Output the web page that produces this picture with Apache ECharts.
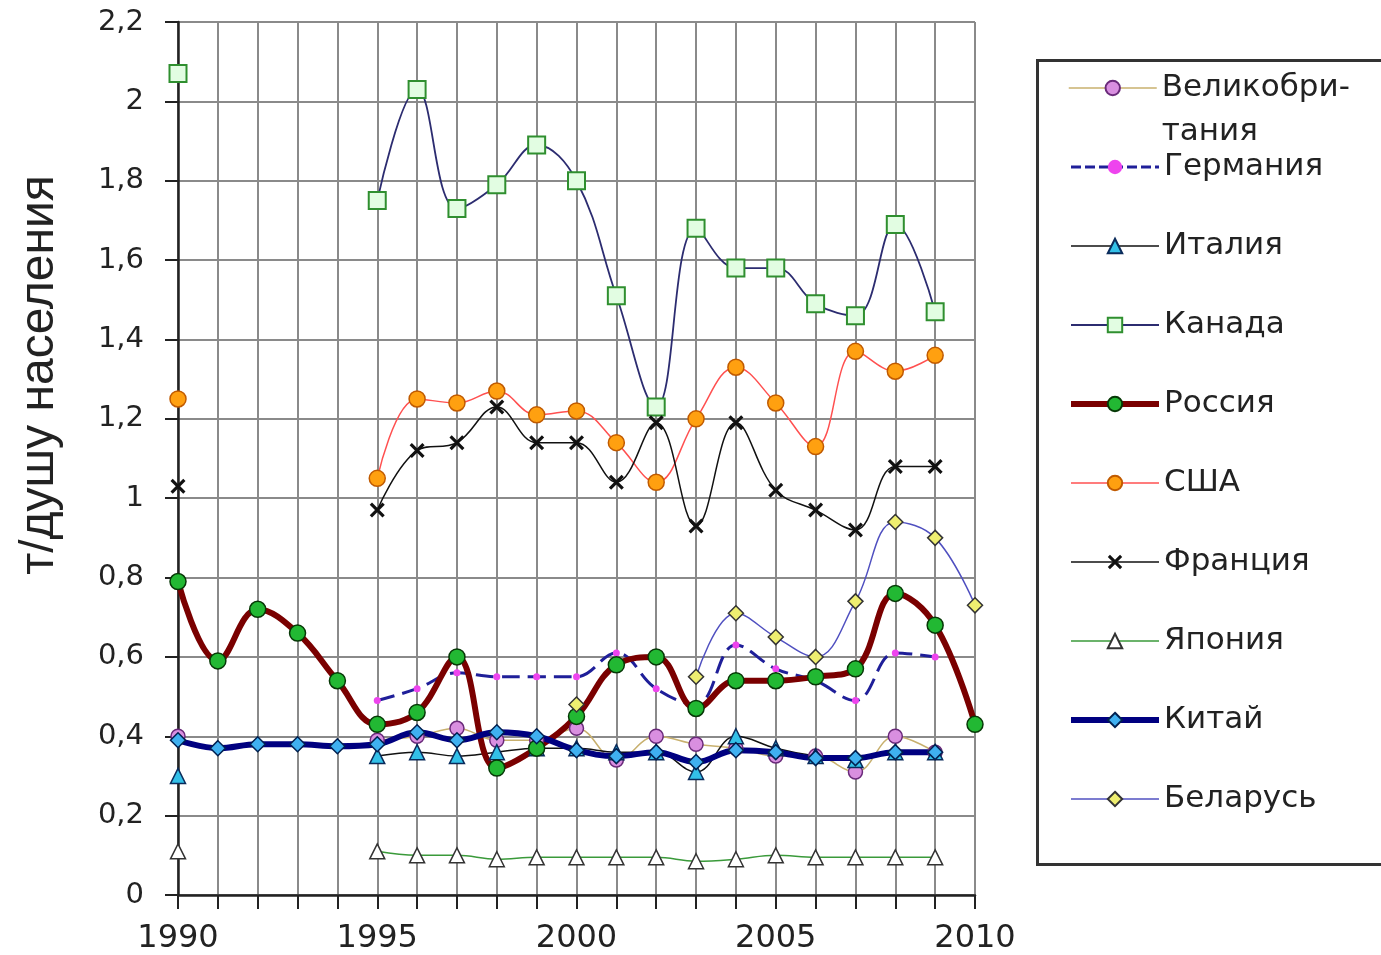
<!DOCTYPE html>
<html>
<head>
<meta charset="utf-8">
<script src="https://cdn.jsdelivr.net/npm/echarts@6/dist/echarts.min.js"></script>
<style>
html,body{margin:0;padding:0;background:#fff;}
#chart{width:1381px;height:955px;}
</style>
</head>
<body>
<div id="chart"></div>
<script>
const years = ['1990','1991','1992','1993','1994','1995','1996','1997','1998','1999','2000','2001','2002','2003','2004','2005','2006','2007','2008','2009','2010'];
const yAxisTitle = 'т/душу населения';
const names = ['Великобритания','Германия','Италия','Канада','Россия','США','Франция','Япония','Китай','Беларусь'];
const ukData      = [0.40, null, null, null, null, 0.39, 0.40, 0.42, 0.39, 0.39, 0.42, 0.34, 0.40, 0.38, 0.37, 0.35, 0.35, 0.31, 0.40, 0.36, null];
const germanyData = [null, null, null, null, null, 0.49, 0.52, 0.56, 0.55, 0.55, 0.55, 0.61, 0.52, 0.48, 0.63, 0.57, 0.54, 0.49, 0.61, 0.60, null];
const italyData   = [0.30, null, null, null, null, 0.35, 0.36, 0.35, 0.36, 0.37, 0.37, 0.36, 0.36, 0.31, 0.40, 0.37, 0.35, 0.34, 0.36, 0.36, null];
const canadaData  = [2.07, null, null, null, null, 1.75, 2.03, 1.73, 1.79, 1.89, 1.80, 1.51, 1.23, 1.68, 1.58, 1.58, 1.49, 1.46, 1.69, 1.47, null];
const russiaData  = [0.79, 0.59, 0.72, 0.66, 0.54, 0.43, 0.46, 0.60, 0.32, 0.37, 0.45, 0.58, 0.60, 0.47, 0.54, 0.54, 0.55, 0.57, 0.76, 0.68, 0.43];
const usaData     = [1.25, null, null, null, null, 1.05, 1.25, 1.24, 1.27, 1.21, 1.22, 1.14, 1.04, 1.20, 1.33, 1.24, 1.13, 1.37, 1.32, 1.36, null];
const franceData  = [1.03, null, null, null, null, 0.97, 1.12, 1.14, 1.23, 1.14, 1.14, 1.04, 1.19, 0.93, 1.19, 1.02, 0.97, 0.92, 1.08, 1.08, null];
const japanData   = [0.11, null, null, null, null, 0.11, 0.10, 0.10, 0.09, 0.095, 0.095, 0.095, 0.095, 0.085, 0.09, 0.10, 0.095, 0.095, 0.095, 0.095, null];
const chinaData   = [0.39, 0.37, 0.38, 0.38, 0.375, 0.38, 0.41, 0.39, 0.41, 0.40, 0.365, 0.35, 0.36, 0.335, 0.365, 0.36, 0.345, 0.345, 0.36, 0.36, null];
const belarusData = [null, null, null, null, null, null, null, null, null, null, 0.48, null, null, 0.55, 0.71, 0.65, 0.60, 0.74, 0.94, 0.90, 0.73];

const crossPath = 'path://M0,1.5L1.5,0L5,3.5L8.5,0L10,1.5L6.5,5L10,8.5L8.5,10L5,6.5L1.5,10L0,8.5L3.5,5Z';
const FONT = 'DejaVu Sans';

const styles = [
  {line: '#c8b06e', w: 1.5, type: 'solid', sym: 'circle', size: 14, fill: '#d98fe0', border: '#6a2a7a', bw: 1.5},
  {line: '#1f1f99', w: 3, type: [18, 8], sym: 'circle', size: 7, fill: '#ee44ee', border: '#ee44ee', bw: 0},
  {line: '#111111', w: 1.5, type: 'solid', sym: 'triangle', size: 15, fill: '#33c0e8', border: '#0a2a5a', bw: 1.5},
  {line: '#2c2c70', w: 1.8, type: 'solid', sym: 'rect', size: 17, fill: '#e2fde2', border: '#2f8f2f', bw: 2},
  {line: '#7a0000', w: 6, type: 'solid', sym: 'circle', size: 16, fill: '#22b833', border: '#063806', bw: 1.5},
  {line: '#ff5050', w: 1.5, type: 'solid', sym: 'circle', size: 16, fill: '#ffa010', border: '#c05a00', bw: 1.5},
  {line: '#111111', w: 1.5, type: 'solid', sym: crossPath, size: 15, fill: '#111111', border: '#111111', bw: 0},
  {line: '#3a9a3a', w: 1.5, type: 'solid', sym: 'triangle', size: 15, fill: '#ffffff', border: '#333333', bw: 1.5},
  {line: '#000080', w: 6, type: 'solid', sym: 'diamond', size: 15, fill: '#3fb0f0', border: '#002050', bw: 1.5},
  {line: '#5050c0', w: 1.5, type: 'solid', sym: 'diamond', size: 15, fill: '#eeee70', border: '#333333', bw: 1.5}
];
const seriesData = [ukData, germanyData, italyData, canadaData, russiaData, usaData, franceData, japanData, chinaData, belarusData];

const series = names.map((n, i) => {
  const s = styles[i];
  return {
    name: n, type: 'line', data: seriesData[i],
    smooth: 0.4, connectNulls: false, showAllSymbol: true,
    symbol: s.sym, symbolSize: s.size,
    lineStyle: {color: s.line, width: s.w, type: s.type},
    itemStyle: {color: s.fill, borderColor: s.border, borderWidth: s.bw},
    emphasis: {disabled: true},
    animation: false
  };
});

const legendItem = i => ({
  name: names[i],
  lineStyle: {color: styles[i].line, width: styles[i].w, type: styles[i].type === 'solid' ? 'solid' : [10, 4]}
});

const legendText = {fontFamily: FONT, fontSize: 31, color: '#222', lineHeight: 44};

const option = {
  backgroundColor: '#ffffff',
  animation: false,
  grid: {left: 178, right: 406, top: 22, bottom: 60, containLabel: false},
  xAxis: {
    type: 'category', data: years, boundaryGap: false,
    axisLine: {lineStyle: {color: '#222', width: 2.5}},
    axisTick: {show: true, interval: 0, length: 14, lineStyle: {color: '#222', width: 2}},
    axisLabel: {interval: 4, margin: 28, fontFamily: FONT, fontSize: 32, color: '#222'},
    splitLine: {show: true, interval: 0, lineStyle: {color: '#8a8a8a', width: 2}}
  },
  yAxis: {
    type: 'value', min: 0, max: 2.2, interval: 0.2,
    axisLine: {show: true, lineStyle: {color: '#222', width: 2.5}},
    axisTick: {show: true, length: 13, lineStyle: {color: '#222', width: 2}},
    axisLabel: {margin: 34, fontFamily: FONT, fontSize: 29, color: '#222',
      formatter: v => String(Math.round(v * 10) / 10).replace('.', ',')},
    splitLine: {show: true, lineStyle: {color: '#8a8a8a', width: 2}}
  },
  legend: [
    {
      data: [legendItem(0)], orient: 'vertical', left: 1068, top: 22, padding: 0,
      itemWidth: 88, itemHeight: 18, itemGap: 35,
      textStyle: legendText,
      formatter: () => '\u00a0\nВеликобри-\nтания',
      selectedMode: false
    },
    {
      data: [1, 2, 3, 4, 5, 6, 7, 8, 9].map(legendItem), orient: 'vertical', left: 1068, top: 145, padding: 0,
      itemWidth: 88, itemHeight: 18, itemGap: 35,
      textStyle: legendText,
      selectedMode: false
    }
  ],
  graphic: [
    {type: 'rect', left: 1035, top: 58, shape: {x: 0, y: 0, width: 400, height: 804},
     style: {fill: 'none', stroke: '#333', lineWidth: 3}, z: 0, silent: true},
    {type: 'text', x: 40, y: 375, rotation: Math.PI / 2,
     style: {text: yAxisTitle, fontFamily: 'Liberation Sans', fontSize: 48, fill: '#222', align: 'center', verticalAlign: 'middle'}}
  ],
  series: series
};

const chart = echarts.init(document.getElementById('chart'), null, {renderer: 'canvas'});
chart.setOption(option);
</script>
</body>
</html>
